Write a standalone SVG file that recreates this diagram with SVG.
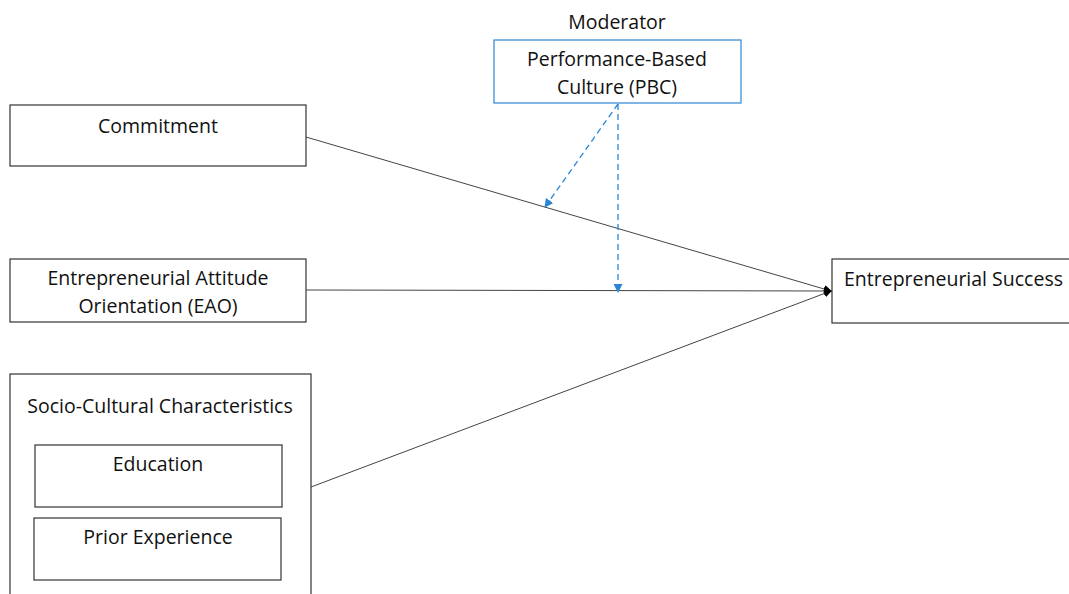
<svg xmlns="http://www.w3.org/2000/svg" width="1069" height="594" viewBox="0 0 1069 594">
<style>
.box{fill:#fff;stroke:#333;stroke-width:1.2}
.mod{fill:#fff;stroke:#2a86d4;stroke-width:1.2}
text{font-family:"Open Sans","Liberation Sans",sans-serif;font-size:19.5px;fill:#111;text-anchor:middle}
.ln{stroke:#444;stroke-width:1;fill:none}
.dash{stroke:#2a86d4;stroke-width:1.3;stroke-dasharray:6,4;fill:none}
</style>
<defs>
<marker id="ab" markerWidth="8" markerHeight="8" refX="7" refY="4" orient="auto" markerUnits="userSpaceOnUse"><path d="M0,0L8,4L0,8z" fill="#000"/></marker>
<marker id="bb" markerWidth="9" markerHeight="9" refX="8" refY="4.5" orient="auto" markerUnits="userSpaceOnUse"><path d="M0,0L9,4.5L0,9z" fill="#2a86d4"/></marker>
</defs>
<text x="617" y="29">Moderator</text>
<g id="pbc"><rect class="mod" x="494" y="40" width="247" height="63"/><text x="617" y="66">Performance-Based</text><text x="617" y="94">Culture (PBC)</text></g>
<g id="commitment"><rect class="box" x="10" y="105" width="296" height="61"/><text x="158" y="133">Commitment</text></g>
<g id="eao"><rect class="box" x="10" y="259" width="296" height="63"/><text x="158" y="285">Entrepreneurial Attitude</text><text x="158" y="313">Orientation (EAO)</text></g>
<g id="socio"><rect class="box" x="10" y="374" width="301" height="230"/><text x="160" y="413">Socio-Cultural Characteristics</text></g>
<g id="education"><rect class="box" x="35" y="445" width="247" height="62"/><text x="158" y="471">Education</text></g>
<g id="prior"><rect class="box" x="34" y="518" width="247" height="62"/><text x="158" y="544">Prior Experience</text></g>
<g id="success"><rect class="box" x="832" y="259" width="245" height="64"/><text x="844" y="286" style="text-anchor:start">Entrepreneurial Success</text></g>
<g id="connectors">
<line class="ln" x1="306" y1="137" x2="831" y2="291" marker-end="url(#ab)"/>
<line class="ln" x1="306" y1="290" x2="831" y2="291" marker-end="url(#ab)"/>
<line class="ln" x1="311" y1="487" x2="831" y2="291" marker-end="url(#ab)"/>
<line class="dash" x1="618" y1="104" x2="545" y2="207" marker-end="url(#bb)"/>
<line class="dash" x1="618" y1="104" x2="618" y2="292" marker-end="url(#bb)"/>
</g>
</svg>
